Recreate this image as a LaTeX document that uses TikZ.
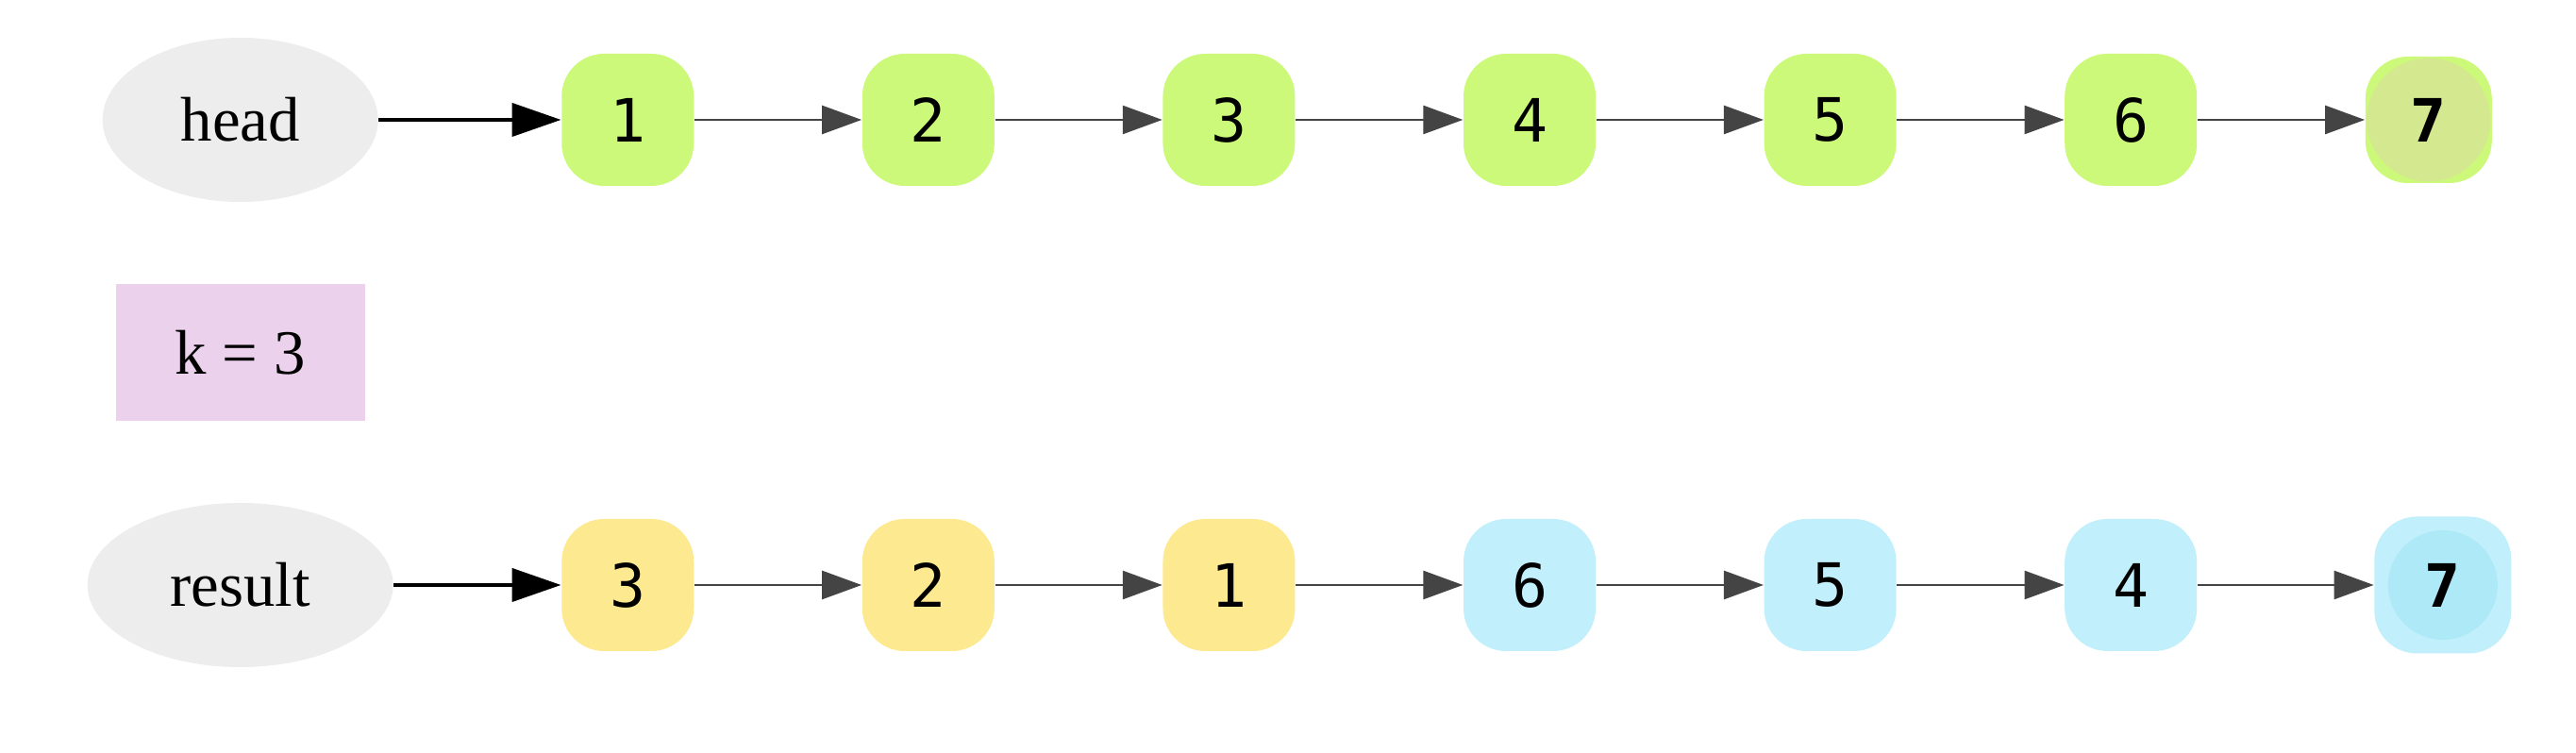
\documentclass[tikz,border=0pt]{standalone}
\usepackage{fontspec}
\setmainfont{Liberation Serif}
\newfontfamily\numfont{DejaVu Sans Mono}
\usetikzlibrary{arrows.meta,shapes.geometric}

\definecolor{ptrgray}{HTML}{EDEDED}
\definecolor{limebox}{HTML}{CCF97A}
\definecolor{limein}{HTML}{D4E98F}
\definecolor{yellowbox}{HTML}{FDE98F}
\definecolor{bluebox}{HTML}{C2EFFC}
\definecolor{bluein}{HTML}{AEE9F8}
\definecolor{parampink}{HTML}{EBD1EC}
\definecolor{arrowgray}{HTML}{444444}

\begin{document}
\begin{tikzpicture}[auto]
\tikzstyle{ptr} = [ellipse, fill=ptrgray, minimum height=1.74cm, inner sep=0pt,
font=\fontsize{19}{23}\selectfont]
\tikzstyle{num} = [rectangle, rounded corners=0.45cm, minimum size=1.4cm, inner sep=0pt,
font=\numfont\fontsize{18}{22}\selectfont]
\tikzstyle{last} = [num, font=\numfont\bfseries\fontsize{18}{22}\selectfont]
\tikzstyle{param} = [rectangle, fill=parampink, minimum width=2.64cm, minimum height=1.45cm,
font=\fontsize{19}{23}\selectfont]
\tikzstyle{link} = [draw=arrowgray, line width=0.75pt, -{Triangle[length=4.2mm,width=3mm]}]
\tikzstyle{start} = [draw, line width=1.2pt, -{Triangle[length=5.2mm,width=3.5mm]}]
\useasboundingbox (0,0) rectangle (27.3,7.98);
\matrix (m) [column sep=1.786cm, row sep=0.87cm, inner sep=0pt] at (13.77,4.245)
{
% row 1: input list
\node [ptr, minimum width=2.92cm] (head) {head}; &
\node [num, fill=limebox] (h1) {1}; &
\node [num, fill=limebox] (h2) {2}; &
\node [num, fill=limebox] (h3) {3}; &
\node [num, fill=limebox] (h4) {4}; &
\node [num, fill=limebox] (h5) {5}; &
\node [num, fill=limebox] (h6) {6}; &
\node [last, fill=limebox, minimum size=1.34cm,
path picture={\fill[limein] (path picture bounding box.center) circle (0.655cm);}] (h7) {7}; \\
% row 2
\node [param] (k) {k = 3}; & & & & & & & \\
% row 3: reversed in groups
\node [ptr, minimum width=3.24cm] (result) {result}; &
\node [num, fill=yellowbox] (r1) {3}; &
\node [num, fill=yellowbox] (r2) {2}; &
\node [num, fill=yellowbox] (r3) {1}; &
\node [num, fill=bluebox] (r4) {6}; &
\node [num, fill=bluebox] (r5) {5}; &
\node [num, fill=bluebox] (r6) {4}; &
\node [last, fill=bluebox, minimum size=1.45cm, xshift=0.15cm,
path picture={\fill[bluein] (path picture bounding box.center) circle (0.58cm);}] (r7) {7}; \\
};
\path [start] (head) -- (h1);
\path [link] (h1) -- (h2);
\path [link] (h2) -- (h3);
\path [link] (h3) -- (h4);
\path [link] (h4) -- (h5);
\path [link] (h5) -- (h6);
\path [link] (h6) -- (h7);

\path [start] (result) -- (r1);
\path [link] (r1) -- (r2);
\path [link] (r2) -- (r3);
\path [link] (r3) -- (r4);
\path [link] (r4) -- (r5);
\path [link] (r5) -- (r6);
\path [link] (r6) -- (r7);
\end{tikzpicture}
\end{document}
